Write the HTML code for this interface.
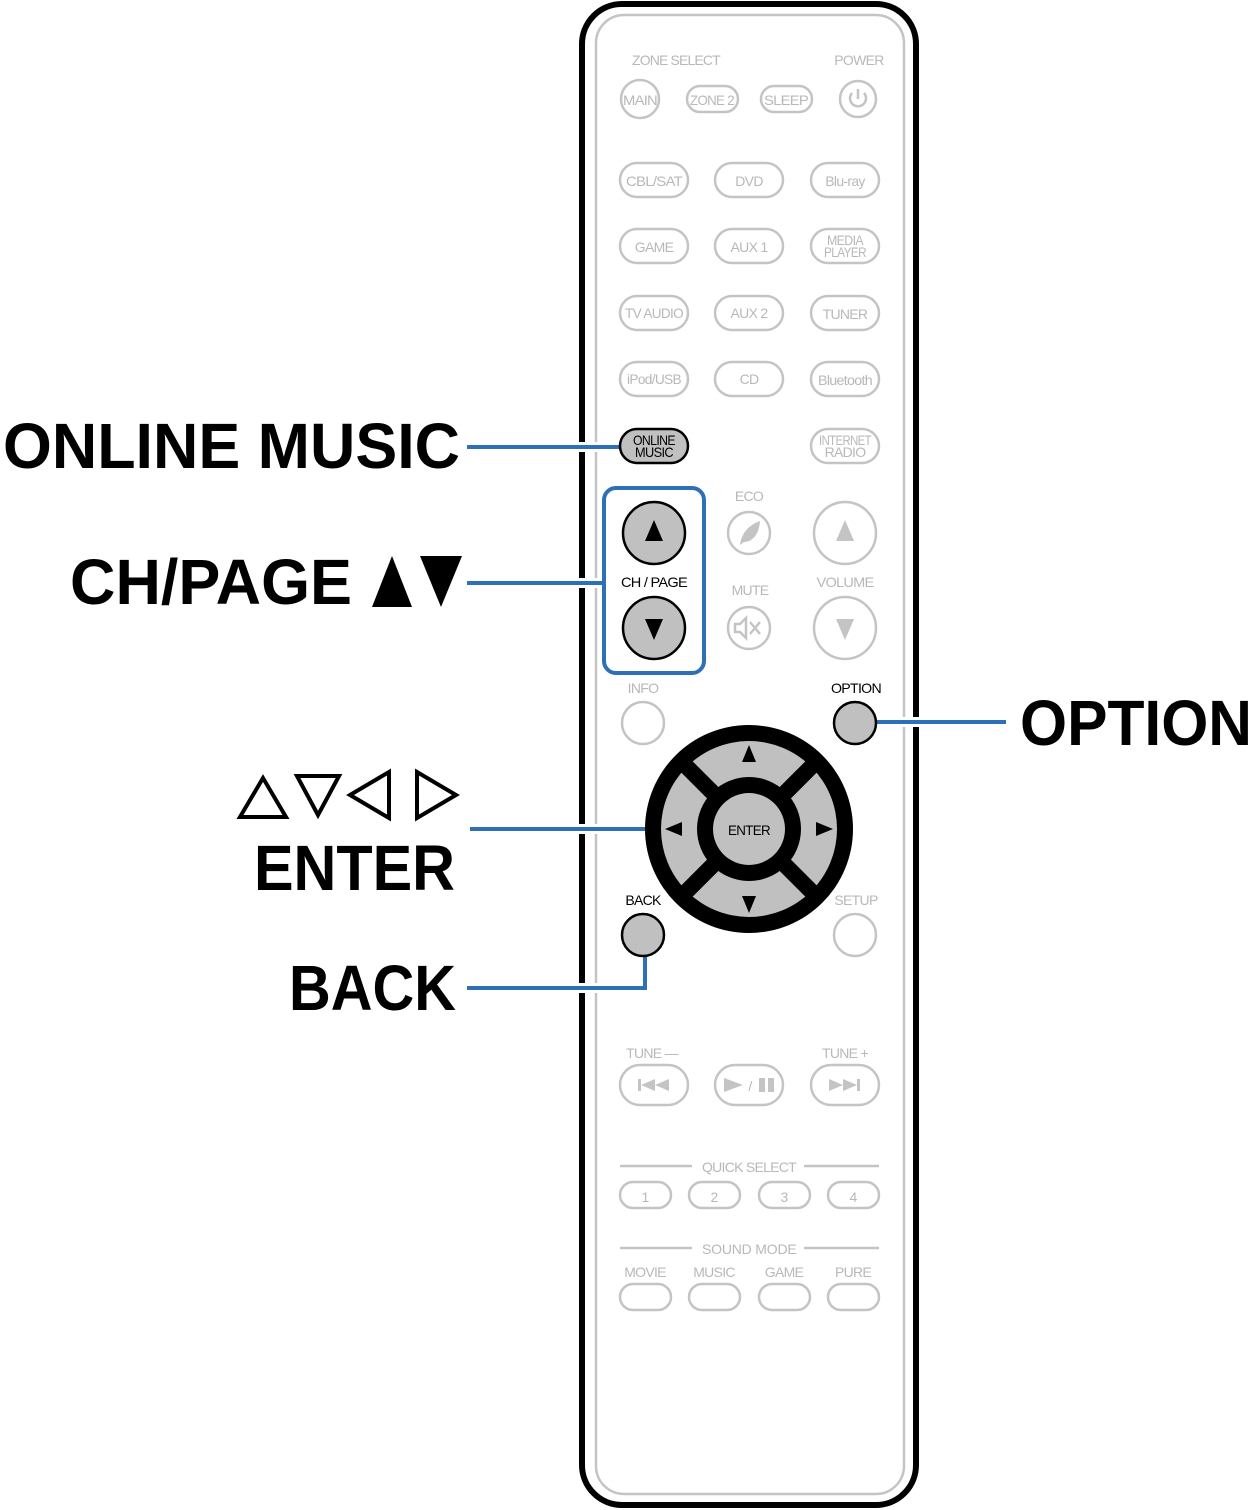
<!DOCTYPE html>
<html><head><meta charset="utf-8"><style>html,body{margin:0;padding:0;background:#fff}svg{display:block}</style></head>
<body>
<svg width="1257" height="1510" viewBox="0 0 1257 1510" xmlns="http://www.w3.org/2000/svg">
<defs>
<style>
.g{fill:none;stroke:#c4c4c4;stroke-width:2.5}
.t{font-family:"Liberation Sans Narrow","Liberation Sans",sans-serif;fill:#b8b8b8;font-size:14px;letter-spacing:-0.7px;text-anchor:middle}
.k{font-family:"Liberation Sans Narrow","Liberation Sans",sans-serif;fill:#000;font-size:14px;letter-spacing:-0.7px;text-anchor:middle}
.big{font-family:"Liberation Sans",sans-serif;font-weight:bold;fill:#000;font-size:64px}
.bl{stroke:#2e70b5;stroke-width:4;fill:none}
</style>
</defs>
<rect x="582" y="4" width="334" height="1501" rx="40" fill="#fff" stroke="#000" stroke-width="6"/>
<rect x="596" y="15" width="308" height="1479" rx="28" class="g"/>

<text class="t" x="676" y="65" textLength="88">ZONE SELECT</text>
<text class="t" x="859" y="65">POWER</text>
<circle cx="640" cy="99" r="19" class="g"/><text class="t" x="640" y="105" font-size="13" textLength="34" lengthAdjust="spacingAndGlyphs">MAIN</text>
<rect x="687" y="86" width="51" height="26" rx="13" class="g"/><text class="t" x="712" y="105" font-size="13" textLength="44" lengthAdjust="spacingAndGlyphs">ZONE 2</text>
<rect x="761" y="86" width="51" height="26" rx="13" class="g"/><text class="t" x="786" y="105" font-size="13" textLength="44" lengthAdjust="spacingAndGlyphs">SLEEP</text>
<circle cx="858" cy="99" r="18" class="g"/>
<path d="M852 93 A8 8 0 1 0 864 93" class="g"/><line x1="858" y1="89" x2="858" y2="99" class="g"/>

<g>
<rect x="620" y="163" width="68" height="34" rx="17" class="g"/><text class="t" x="654" y="186" textLength="56" lengthAdjust="spacingAndGlyphs">CBL/SAT</text>
<rect x="715" y="163" width="68" height="34" rx="17" class="g"/><text class="t" x="749" y="186">DVD</text>
<rect x="811" y="163" width="68" height="34" rx="17" class="g"/><text class="t" x="845" y="186">Blu-ray</text>
<rect x="620" y="229" width="68" height="34" rx="17" class="g"/><text class="t" x="654" y="252">GAME</text>
<rect x="715" y="229" width="68" height="34" rx="17" class="g"/><text class="t" x="749" y="252">AUX 1</text>
<rect x="811" y="229" width="68" height="34" rx="17" class="g"/><text class="t" x="845" y="245" font-size="12" textLength="36" lengthAdjust="spacingAndGlyphs">MEDIA</text><text class="t" x="845" y="257" font-size="12" textLength="42" lengthAdjust="spacingAndGlyphs">PLAYER</text>
<rect x="620" y="296" width="68" height="34" rx="17" class="g"/><text class="t" x="654" y="318" font-size="13" textLength="58" lengthAdjust="spacingAndGlyphs">TV AUDIO</text>
<rect x="715" y="296" width="68" height="34" rx="17" class="g"/><text class="t" x="749" y="318">AUX 2</text>
<rect x="811" y="296" width="68" height="34" rx="17" class="g"/><text class="t" x="845" y="319">TUNER</text>
<rect x="620" y="362" width="68" height="34" rx="17" class="g"/><text class="t" x="654" y="384" font-size="13" textLength="54" lengthAdjust="spacingAndGlyphs">iPod/USB</text>
<rect x="715" y="362" width="68" height="34" rx="17" class="g"/><text class="t" x="749" y="384">CD</text>
<rect x="811" y="362" width="68" height="34" rx="17" class="g"/><text class="t" x="845" y="385" font-size="14" textLength="54" lengthAdjust="spacingAndGlyphs">Bluetooth</text>
<rect x="811" y="429" width="68" height="34" rx="17" class="g"/><text class="t" x="845" y="445" font-size="12" textLength="52" lengthAdjust="spacingAndGlyphs">INTERNET</text><text class="t" x="845" y="457" font-size="12">RADIO</text>
</g>

<g stroke="#fff" stroke-width="10" fill="none">
<line x1="575" y1="447" x2="600" y2="447"/>
<line x1="575" y1="583" x2="600" y2="583"/>
<line x1="575" y1="829" x2="600" y2="829"/>
<line x1="575" y1="988" x2="600" y2="988"/>
<line x1="900" y1="722" x2="925" y2="722"/>
</g>
<line x1="467" y1="447" x2="622" y2="447" class="bl"/>
<line x1="467" y1="583" x2="604" y2="583" class="bl"/>
<line x1="876" y1="722" x2="1006" y2="722" class="bl"/>
<line x1="470" y1="829" x2="648" y2="829" class="bl"/>
<polyline points="645,955 645,988 467,988" class="bl"/>

<rect x="620" y="429" width="68" height="34" rx="17" fill="#c0c0c0" stroke="#000" stroke-width="2.5"/>
<text class="k" x="654" y="445" font-size="13" textLength="42" lengthAdjust="spacingAndGlyphs">ONLINE</text><text class="k" x="654" y="457" font-size="13" textLength="38" lengthAdjust="spacingAndGlyphs">MUSIC</text>

<rect x="604" y="488" width="100" height="185" rx="12" fill="none" stroke="#2e70b5" stroke-width="4"/>
<circle cx="654" cy="533" r="31" fill="#c0c0c0" stroke="#000" stroke-width="2.5"/>
<polygon points="654,520 645,541 663,541" fill="#000"/>
<text class="k" x="654" y="587" font-size="16" textLength="66" lengthAdjust="spacingAndGlyphs">CH / PAGE</text>
<circle cx="654" cy="628" r="31" fill="#c0c0c0" stroke="#000" stroke-width="2.5"/>
<polygon points="645,619 663,619 654,640" fill="#000"/>

<text class="t" x="749" y="501">ECO</text>
<circle cx="749" cy="533" r="21" class="g"/>
<path d="M740 545 C742 530 752 524 760 521 C759 535 752 542 744 542" fill="#c4c4c4"/>
<text class="t" x="750" y="595">MUTE</text>
<circle cx="749" cy="628" r="21" class="g"/>
<path d="M735 624 h5 l6 -6 v20 l-6 -6 h-5z" class="g" stroke-width="2"/><path d="M750 622 l10 12 M760 622 l-10 12" class="g" stroke-width="2"/>
<circle cx="845" cy="533" r="31" class="g"/>
<polygon points="845,520 836,541 854,541" fill="#c4c4c4"/>
<text class="t" x="845" y="587" font-size="16" textLength="57" lengthAdjust="spacingAndGlyphs">VOLUME</text>
<circle cx="845" cy="628" r="31" class="g"/>
<polygon points="836,619 854,619 845,640" fill="#c4c4c4"/>

<text class="t" x="643" y="693">INFO</text>
<circle cx="643" cy="723" r="21" class="g"/>
<text class="k" x="856" y="693" textLength="50" lengthAdjust="spacingAndGlyphs">OPTION</text>
<circle cx="855" cy="723" r="21" fill="#c0c0c0" stroke="#000" stroke-width="2.5"/>

<circle cx="749" cy="829" r="104" fill="#000"/>
<circle cx="749" cy="829" r="88" fill="#c0c0c0"/>
<g stroke="#000" stroke-width="16">
<line x1="680" y1="760" x2="818" y2="898"/>
<line x1="818" y1="760" x2="680" y2="898"/>
</g>
<circle cx="749" cy="829" r="52" fill="#000"/>
<circle cx="749" cy="829" r="36" fill="#c0c0c0"/>
<text class="k" x="749" y="835" font-size="16" textLength="42" lengthAdjust="spacingAndGlyphs">ENTER</text>
<polygon points="749,745 742,762 756,762" fill="#000"/>
<polygon points="742,896 756,896 749,913" fill="#000"/>
<polygon points="665,829 682,822 682,836" fill="#000"/>
<polygon points="833,829 816,822 816,836" fill="#000"/>

<text class="k" x="643" y="905">BACK</text>
<circle cx="643" cy="935" r="21" fill="#c0c0c0" stroke="#000" stroke-width="2.5"/>
<text class="t" x="856" y="905">SETUP</text>
<circle cx="855" cy="935" r="21" class="g"/>

<text class="t" x="652" y="1058">TUNE —</text>
<text class="t" x="845" y="1058">TUNE +</text>
<rect x="620" y="1065" width="68" height="40" rx="20" class="g"/>
<rect x="715" y="1065" width="68" height="40" rx="20" class="g"/>
<rect x="811" y="1065" width="68" height="40" rx="20" class="g"/>
<g fill="#c4c4c4">
<rect x="638" y="1079" width="3" height="12"/><polygon points="641,1085 655,1079 655,1091"/><polygon points="655,1085 669,1079 669,1091"/>
<polygon points="724,1078 743,1085 724,1092"/><rect x="759" y="1078" width="6" height="14"/><rect x="768" y="1078" width="6" height="14"/>
<polygon points="829,1079 843,1085 829,1091"/><polygon points="843,1079 857,1085 843,1091"/><rect x="857" y="1079" width="3" height="12"/>
</g>
<text class="t" x="750" y="1091" font-size="16">/</text>

<line x1="620" y1="1166" x2="692" y2="1166" class="g" stroke-width="2"/>
<line x1="804" y1="1166" x2="879" y2="1166" class="g" stroke-width="2"/>
<text class="t" x="749" y="1172" textLength="94">QUICK SELECT</text>
<rect x="620" y="1182" width="51" height="26" rx="13" class="g"/><text class="t" x="645" y="1202" font-size="18">1</text>
<rect x="689" y="1182" width="51" height="26" rx="13" class="g"/><text class="t" x="714" y="1202" font-size="18">2</text>
<rect x="759" y="1182" width="51" height="26" rx="13" class="g"/><text class="t" x="784" y="1202" font-size="18">3</text>
<rect x="828" y="1182" width="51" height="26" rx="13" class="g"/><text class="t" x="853" y="1202" font-size="18">4</text>

<line x1="620" y1="1248" x2="692" y2="1248" class="g" stroke-width="2"/>
<line x1="804" y1="1248" x2="879" y2="1248" class="g" stroke-width="2"/>
<text class="t" x="749" y="1254" textLength="94">SOUND MODE</text>
<text class="t" x="645" y="1277">MOVIE</text><text class="t" x="714" y="1277">MUSIC</text><text class="t" x="784" y="1277">GAME</text><text class="t" x="853" y="1277">PURE</text>
<rect x="620" y="1284" width="51" height="26" rx="13" class="g"/>
<rect x="689" y="1284" width="51" height="26" rx="13" class="g"/>
<rect x="759" y="1284" width="51" height="26" rx="13" class="g"/>
<rect x="828" y="1284" width="51" height="26" rx="13" class="g"/>

<text class="big" x="3" y="468" textLength="457" lengthAdjust="spacingAndGlyphs">ONLINE MUSIC</text>
<text class="big" x="70" y="604" textLength="282" lengthAdjust="spacingAndGlyphs">CH/PAGE</text>
<polygon points="392,556 372,607 412,607" fill="#000"/>
<polygon points="420,556 462,556 441,607" fill="#000"/>
<text class="big" x="1020" y="745" textLength="232" lengthAdjust="spacingAndGlyphs">OPTION</text>
<g fill="none" stroke="#000" stroke-width="4">
<polygon points="263,778 240,817 286,817"/>
<polygon points="297,776 339,776 318,815"/>
<polygon points="389,772 389,818 350,795"/>
<polygon points="417,772 417,818 456,795"/>
</g>
<text class="big" x="254" y="890" textLength="201" lengthAdjust="spacingAndGlyphs">ENTER</text>
<text class="big" x="289" y="1010" textLength="167" lengthAdjust="spacingAndGlyphs">BACK</text>
</svg>
</body></html>
